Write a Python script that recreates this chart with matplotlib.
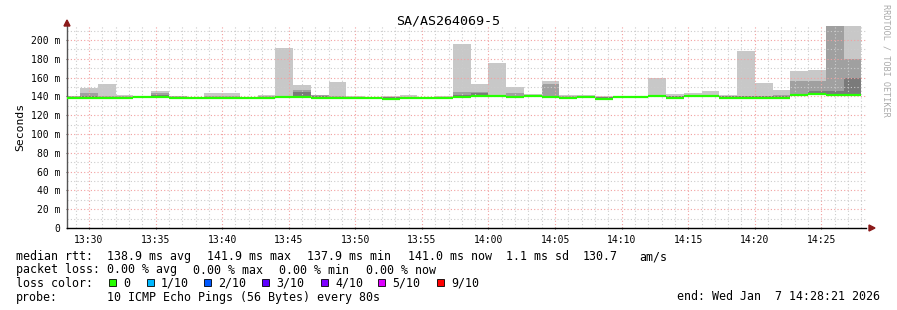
import numpy as np
import matplotlib.pyplot as plt
from matplotlib.patches import Rectangle, Polygon
from matplotlib.ticker import FuncFormatter, MultipleLocator

plt.rcParams['font.family'] = ['DejaVu Sans Mono']

# ------------------------------------------------------------
# Data: 80 s bins starting 13:28:00 (minutes after 13:00)
# ------------------------------------------------------------
bin_start = 28.0
bin_step = 80 / 60
view_start = 28 + 21 / 60      # 13:28:21
view_end = 88 + 21 / 60        # 14:28:21

rtt_median = [138.8, 138.8, 138.5, 138.5, 139.0, 139.0, 138.5, 138.8, 138.8, 138.8,
              138.8, 138.8, 139.0, 139.5, 138.5, 138.8, 138.5, 138.3, 137.8, 138.0,
              138.0, 138.8, 139.8, 140.5, 140.5, 139.0, 140.5, 139.5, 138.0, 139.0,
              137.5, 139.0, 139.0, 140.0, 138.5, 140.5, 140.5, 138.5, 138.5, 138.5,
              138.5, 141.3, 142.8, 141.5, 141.5]
rtt_max = [141.0, 149.3, 153.2, 141.5, 139.8, 145.7, 140.5, 139.5, 143.6, 143.6,
           139.5, 141.5, 191.5, 152.1, 141.8, 155.3, 140.4, 139.0, 140.0, 141.5,
           138.8, 140.4, 195.7, 153.2, 175.5, 150.0, 142.5, 156.4, 141.5, 141.5,
           140.4, 140.4, 140.7, 159.6, 142.5, 143.6, 145.7, 141.5, 188.6, 154.3,
           146.8, 167.0, 168.0, 240.0, 240.0]
rtt_p9 = [140.0, 144.0, 140.5, 140.0, 139.5, 144.0, 140.0, 139.3, 140.0, 140.0,
          139.2, 140.0, 140.5, 147.2, 141.5, 140.0, 139.8, 138.8, 139.8, 139.5,
          138.6, 139.8, 144.3, 144.7, 141.5, 143.6, 141.5, 153.0, 140.5, 140.5,
          139.5, 140.0, 140.2, 141.0, 140.5, 142.0, 142.0, 140.5, 140.5, 140.5,
          142.0, 156.3, 156.3, 230.0, 180.0]
rtt_p8 = [139.5, 141.0, 139.5, 139.5, 139.2, 141.5, 139.8, 139.0, 139.5, 139.5,
          139.0, 139.5, 139.8, 144.7, 141.0, 139.5, 139.3, 138.6, 139.5, 139.0,
          138.4, 139.4, 141.8, 143.5, 141.0, 141.0, 141.0, 141.0, 139.5, 140.0,
          139.0, 139.6, 139.8, 140.5, 140.0, 141.5, 141.5, 140.0, 140.0, 140.0,
          140.5, 143.0, 146.0, 146.0, 160.0]
rtt_min = [137.8, 137.8, 137.5, 137.5, 138.0, 138.0, 137.5, 137.8, 137.8, 137.8,
           137.8, 137.8, 138.0, 138.5, 137.5, 137.8, 137.5, 137.3, 136.8, 137.0,
           137.0, 137.8, 138.8, 139.5, 139.5, 138.0, 139.5, 138.5, 137.0, 138.0,
           136.5, 138.0, 138.0, 139.0, 137.5, 139.5, 139.5, 137.5, 137.5, 137.5,
           137.5, 140.3, 141.8, 140.5, 140.5]

legend_rtt = ["138.9 ms avg", "141.9 ms max", "137.9 ms min", "141.0 ms now",
              "1.1 ms sd", "130.7", "am/s"]
legend_loss = ["0.00 % avg", "0.00 % max", "0.00 % min", "0.00 % now"]
loss_labels = ["0", "1/10", "2/10", "3/10", "4/10", "5/10", "9/10"]
loss_colors = ["#26ff00", "#00b8ff", "#0059ff", "#5e00ff", "#7e00ff", "#dd00ff", "#ff0000"]

W, H = 897, 310


def fx(px):
    return px / W


def fy(py):
    return 1 - py / H


# ------------------------------------------------------------
# Figure / axes
# ------------------------------------------------------------
fig = plt.figure(figsize=(W / 100, H / 100), dpi=100)
fig.patch.set_facecolor("white")
ax = fig.add_axes([fx(67), 82 / H, 799 / W, 202 / H])

n = len(rtt_median)
edges = bin_start + np.arange(n + 1) * bin_step
lo = np.array(rtt_min)

# smoke: outer bands light, inner bands darker
for top, col in [(rtt_max, "#c8c8c8"), (rtt_p9, "#a0a0a0"), (rtt_p8, "#7a7a7a")]:
    y1 = np.append(lo, lo[-1])
    y2 = np.append(top, top[-1])
    ax.fill_between(edges, y1, y2, step="post", color=col, lw=0, zorder=1)

# grid (drawn over the smoke, like rrdtool)
for m in np.arange(29, 89, 1):
    major = (m % 5 == 0)
    ax.axvline(m, color="#f2a0a0" if major else "#cccccc", lw=0.8,
               ls=(0, (1, 2)), zorder=2)
for v in np.arange(10, 215, 10):
    major = (v % 20 == 0)
    ax.axhline(v, color="#f2a0a0" if major else "#cccccc", lw=0.8,
               ls=(0, (1, 2)), zorder=2)

# median line coloured by loss (all zero loss -> green)
ax.hlines(rtt_median, edges[:-1], edges[1:], color=loss_colors[0], lw=1.6, zorder=3)

ax.set_xlim(view_start, view_end)
ax.set_ylim(0, 215)

ax.xaxis.set_major_locator(MultipleLocator(5))
ax.xaxis.set_major_formatter(FuncFormatter(lambda v, p: f"{13 + int(v // 60)}:{int(v % 60):02d}"))
ax.yaxis.set_major_locator(MultipleLocator(20))
ax.yaxis.set_major_formatter(FuncFormatter(lambda v, p: "0" if v == 0 else f"{v:.0f} m"))
ax.tick_params(axis="both", labelsize=7, length=2, width=0.8, direction="inout",
               color="#555555")
ax.tick_params(axis="x", pad=4)
ax.tick_params(axis="y", pad=4)

for s in ["top", "right"]:
    ax.spines[s].set_visible(False)
ax.spines["left"].set_color("#555555")
ax.spines["bottom"].set_color("black")
ax.spines["left"].set_linewidth(1.0)
ax.spines["bottom"].set_linewidth(1.0)

ax.set_ylabel("Seconds", fontsize=8.2, labelpad=4)

# axis arrow heads
arrow_col = "#8b1a1a"
fig.add_artist(Polygon([(fx(64), fy(26)), (fx(70), fy(26)), (fx(67), fy(20))],
                       closed=True, color=arrow_col, transform=fig.transFigure))
fig.add_artist(Polygon([(fx(869), fy(225)), (fx(869), fy(231)), (fx(875), fy(228))],
                       closed=True, color=arrow_col, transform=fig.transFigure))

# title and watermark
fig.text(0.5, fy(24), "SA/AS264069-5", ha="center", va="baseline", fontsize=9.6)
fig.text(fx(886), fy(4), "RRDTOOL / TOBI OETIKER", rotation=270, ha="center",
         va="top", fontsize=6.1, color="#aaaaaa")

# legend block
fs = 8.4
fig.text(fx(16), fy(260), "median rtt:", fontsize=fs, va="baseline")
for x, s in zip([107, 207, 307, 408, 506, 583, 639], legend_rtt):
    fig.text(fx(x), fy(260), s, fontsize=fs, va="baseline")

fig.text(fx(16), fy(273.5), "packet loss:", fontsize=fs, va="baseline")
for x, s in zip([107, 193, 279, 366], legend_loss):
    fig.text(fx(x), fy(273.5), s, fontsize=fs, va="baseline")

fig.text(fx(16), fy(287), "loss color:", fontsize=fs, va="baseline")
for x, lab, col in zip([109, 147, 204, 262, 321, 378, 437], loss_labels, loss_colors):
    fig.add_artist(Rectangle((fx(x), fy(286)), 7 / W, 7 / H, facecolor=col,
                             edgecolor="black", lw=0.6, transform=fig.transFigure))
    fig.text(fx(x + 14), fy(287), lab, fontsize=fs, va="baseline")

fig.text(fx(16), fy(300.5), "probe:", fontsize=fs, va="baseline")
fig.text(fx(107), fy(300.5), "10 ICMP Echo Pings (56 Bytes) every 80s",
         fontsize=fs, va="baseline")
fig.text(fx(880), fy(300.5), "end: Wed Jan  7 14:28:21 2026",
         fontsize=fs, va="baseline", ha="right")

fig.savefig("out.png", dpi=100)
